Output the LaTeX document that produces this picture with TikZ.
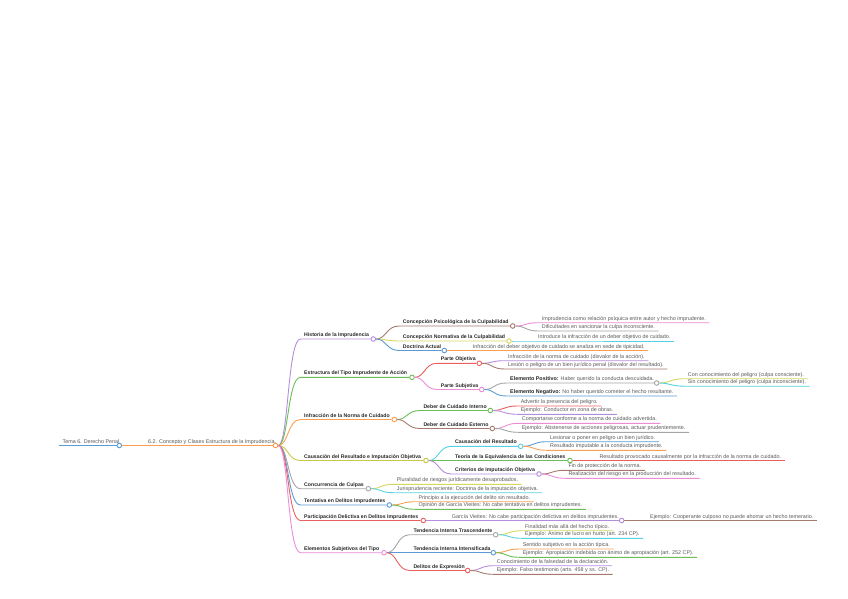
\documentclass[tikz,border=0pt]{standalone}
\usepackage{fontspec}
\setmainfont{Liberation Sans}

\definecolor{mmblue}{RGB}{91,155,213}
\definecolor{mmorange}{RGB}{250,160,85}
\definecolor{mmpurple}{RGB}{180,140,220}
\definecolor{mmgreen}{RGB}{105,190,85}
\definecolor{mmolive}{RGB}{200,200,70}
\definecolor{mmgray}{RGB}{165,165,165}
\definecolor{mmred}{RGB}{235,95,95}
\definecolor{mmpink}{RGB}{235,140,215}
\definecolor{mmbrown}{RGB}{165,122,112}
\definecolor{mmcyan}{RGB}{85,210,225}
\definecolor{mmyellow}{RGB}{215,215,95}

\begin{document}
\begin{tikzpicture}[
        x=1bp, y=-1bp,
        tema/.style={
            anchor=south west,
            inner xsep=3.5bp,
            inner ysep=1.2bp,
            text height=3.9pt,
            text depth=1.1pt,
            font=\fontsize{5.4}{6}\selectfont,
            text=black!65
        },
        titulo/.style={
            tema,
            font=\fontsize{5.2}{6}\selectfont\bfseries,
            text=black!85
        },
        punto/.style={
            circle,
            draw=#1,
            fill=white,
            line width=0.9pt,
            minimum size=4.6pt,
            inner sep=0pt
        },
        rama/.style={
            draw=#1,
            line width=0.9pt,
            to path={.. controls +(13,0) and +(-13,0) .. (\tikztotarget)}
        }
    ]

    \useasboundingbox (0,0) rectangle (848,599);

    % Raíz
    \node[tema] (raiz) at (59,445.5) {Tema 6. Derecho Penal};
    \node[punto=mmblue] (raizc) at (119.3,445.5) {};

    \node[tema] (t62) at (144.5,445.5) {6.2. Concepto y Clases Estructura de la Imprudencia.};
    \node[punto=mmorange] (t62c) at (275.5,445.5) {};

    % Temas principales
    \node[titulo] (hist) at (300.5,339) {Historia de la Imprudencia};
    \node[punto=mmpurple] (histc) at (373.3,339) {};

    \node[titulo] (estr) at (300.5,377.3) {Estructura del Tipo Imprudente de Acción};
    \node[punto=mmgreen] (estrc) at (412,377.3) {};

    \node[titulo] (infr) at (300.5,419.5) {Infracción de la Norma de Cuidado};
    \node[punto=mmorange] (infrc) at (394.3,419.5) {};

    \node[titulo] (caus) at (300.5,460.5) {Causación del Resultado e Imputación Objetiva};
    \node[punto=mmolive] (causc) at (426,460.5) {};

    \node[titulo] (conc) at (300.5,488.7) {Concurrencia de Culpas};
    \node[punto=mmgray] (concc) at (368.3,488.7) {};

    \node[titulo] (tent) at (300.5,505) {Tentativa en Delitos Imprudentes};
    \node[punto=mmblue] (tentc) at (389.3,505) {};

    \node[titulo] (part) at (300.5,520.5) {Participación Delictiva en Delitos Imprudentes};
    \node[punto=mmred] (partc) at (423.3,520.5) {};

    \node[titulo] (elem) at (300.5,552.7) {Elementos Subjetivos del Tipo};
    \node[punto=mmpink] (elemc) at (384,552.7) {};

    % Historia de la Imprudencia
    \node[titulo] (psico) at (399.2,326) {Concepción Psicológica de la Culpabilidad};
    \node[punto=mmbrown] (psicoc) at (512.7,326) {};
    \node[tema] (p1) at (538.2,322.7) {Imprudencia como relación psíquica entre autor y hecho imprudente.};
    \node[tema] (p2) at (538.2,331) {Dificultades en sancionar la culpa inconsciente.};

    \node[titulo] (norm) at (399.2,341) {Concepción Normativa de la Culpabilidad};
    \node[punto=mmyellow] (normc) at (509,341) {};
    \node[tema] (n1) at (534.5,341) {Introduce la infracción de un deber objetivo de cuidado.};

    \node[titulo] (doct) at (399.2,350.5) {Doctrina Actual};
    \node[punto=mmblue] (doctc) at (444.3,350.5) {};
    \node[tema] (d1) at (469.2,350.5) {Infracción del deber objetivo de cuidado se analiza en sede de tipicidad.};

    % Estructura del tipo
    \node[titulo] (pobj) at (437.2,363.3) {Parte Objetiva};
    \node[punto=mmred] (pobjc) at (479.3,363.3) {};
    \node[tema] (o1) at (504.5,360.7) {Infracción de la norma de cuidado (disvalor de la acción).};
    \node[tema] (o2) at (504.5,369) {Lesión o peligro de un bien jurídico penal (disvalor del resultado).};

    \node[titulo] (psub) at (437.2,389.5) {Parte Subjetiva};
    \node[punto=mmpink] (psubc) at (481.7,389.5) {};
    \node[tema] (epos) at (506.5,383) {\textbf{\color{black!85}Elemento Positivo:} Haber querido la conducta descuidada.};
    \node[punto=mmgray] (eposc) at (656.7,383) {};
    \node[tema] (ep1) at (684.2,378.7) {Con conocimiento del peligro (culpa consciente).};
    \node[tema] (ep2) at (684.2,386.2) {Sin conocimiento del peligro (culpa inconsciente).};
    \node[tema] (eneg) at (506.5,396) {\textbf{\color{black!85}Elemento Negativo:} No haber querido cometer el hecho resultante.};

    % Infracción de la norma
    \node[titulo] (dint) at (419.8,410.5) {Deber de Cuidado Interno};
    \node[punto=mmgreen] (dintc) at (490.3,410.5) {};
    \node[tema] (i1) at (517.2,406) {Advertir la presencia del peligro.};
    \node[tema] (i2) at (517.2,414.3) {Ejemplo: Conductor en zona de obras.};

    \node[titulo] (dext) at (419.8,428.5) {Deber de Cuidado Externo};
    \node[punto=mmbrown] (dextc) at (492.3,428.5) {};
    \node[tema] (e1) at (518.2,423.3) {Comportarse conforme a la norma de cuidado advertida.};
    \node[tema] (e2) at (518.2,432.3) {Ejemplo: Abstenerse de acciones peligrosas, actuar prudentemente.};

    % Causación e imputación
    \node[titulo] (cres) at (451.5,446.3) {Causación del Resultado};
    \node[punto=mmcyan] (cresc) at (520.7,446.3) {};
    \node[tema] (r1) at (546.5,441.7) {Lesionar o poner en peligro un bien jurídico.};
    \node[tema] (r2) at (546.5,450.3) {Resultado imputable a la conducta imprudente.};

    \node[titulo] (teq) at (451.5,460.5) {Teoría de la Equivalencia de las Condiciones};
    \node[punto=mmgreen] (teqc) at (570,460.5) {};
    \node[tema] (q1) at (595.8,460.5) {Resultado provocado causalmente por la infracción de la norma de cuidado.};

    \node[titulo] (crit) at (451.5,474) {Criterios de Imputación Objetiva};
    \node[punto=mmpurple] (critc) at (539,474) {};
    \node[tema] (c1) at (564.8,470.3) {Fin de protección de la norma.};
    \node[tema] (c2) at (564.8,478.3) {Realización del riesgo en la producción del resultado.};

    % Concurrencia, tentativa y participación
    \node[tema] (cc1) at (393.2,484.3) {Pluralidad de riesgos jurídicamente desaprobados.};
    \node[tema] (cc2) at (393.2,492.7) {Jurisprudencia reciente: Doctrina de la imputación objetiva.};

    \node[tema] (t1) at (414.8,501.7) {Principio a la ejecución del delito sin resultado.};
    \node[tema] (t2) at (414.8,509.3) {Opinión de García Vieites: No cabe tentativa en delitos imprudentes.};

    \node[tema] (pa1) at (448.2,520.5) {García Vieites: No cabe participación delictiva en delitos imprudentes.};
    \node[punto=mmpurple] (pa1c) at (621.7,520.5) {};
    \node[tema] (pa2) at (646.5,520.5) {Ejemplo: Cooperante culposo no puede ahorrar un hecho temerario.};

    % Elementos subjetivos
    \node[titulo] (ttra) at (409.8,534.7) {Tendencia Interna Trascendente};
    \node[punto=mmgray] (ttrac) at (495.7,534.7) {};
    \node[tema] (tt1) at (521.5,530.7) {Finalidad más allá del hecho típico.};
    \node[tema] (tt2) at (521.5,538.3) {Ejemplo: Ánimo de lucro en hurto (art. 234 CP).};

    \node[titulo] (tint) at (409.8,552.7) {Tendencia Interna Intensificada};
    \node[punto=mmblue] (tintc) at (493.3,552.7) {};
    \node[tema] (ti1) at (519.2,549) {Sentido subjetivo en la acción típica.};
    \node[tema] (ti2) at (519.2,557.3) {Ejemplo: Apropiación indebida con ánimo de apropiación (art. 252 CP).};

    \node[titulo] (dexp) at (409.8,570.5) {Delitos de Expresión};
    \node[punto=mmred] (dexpc) at (467.7,570.5) {};
    \node[tema] (x1) at (493.2,565.7) {Conocimiento de la falsedad de la declaración.};
    \node[tema] (x2) at (493.2,574.3) {Ejemplo: Falso testimonio (arts. 458 y ss. CP).};

    % Ramas
    \draw[mmblue, line width=1.2pt] (raiz.south west) -- (raizc);
    \draw[rama=mmorange, line width=1.2pt] (raizc) to (t62.south west) -- (t62c);

    \draw[rama=mmpurple] (t62c) to (hist.south west) -- (histc);
    \draw[rama=mmgreen] (t62c) to (estr.south west) -- (estrc);
    \draw[rama=mmorange] (t62c) to (infr.south west) -- (infrc);
    \draw[rama=mmolive] (t62c) to (caus.south west) -- (causc);
    \draw[rama=mmgray] (t62c) to (conc.south west) -- (concc);
    \draw[rama=mmblue] (t62c) to (tent.south west) -- (tentc);
    \draw[rama=mmred] (t62c) to (part.south west) -- (partc);
    \draw[rama=mmpink] (t62c) to (elem.south west) -- (elemc);

    \draw[rama=mmbrown] (histc) to (psico.south west) -- (psicoc);
    \draw[rama=mmpink] (psicoc) to (p1.south west) -- (p1.south east);
    \draw[rama=mmgray] (psicoc) to (p2.south west) -- (p2.south east);
    \draw[rama=mmyellow] (histc) to (norm.south west) -- (normc);
    \draw[rama=mmcyan] (normc) to (n1.south west) -- (n1.south east);
    \draw[rama=mmblue] (histc) to (doct.south west) -- (doctc);
    \draw[rama=mmorange] (doctc) to (d1.south west) -- (d1.south east);

    \draw[rama=mmred] (estrc) to (pobj.south west) -- (pobjc);
    \draw[rama=mmpurple] (pobjc) to (o1.south west) -- (o1.south east);
    \draw[rama=mmbrown] (pobjc) to (o2.south west) -- (o2.south east);
    \draw[rama=mmpink] (estrc) to (psub.south west) -- (psubc);
    \draw[rama=mmgray] (psubc) to (epos.south west) -- (eposc);
    \draw[rama=mmyellow] (eposc) to (ep1.south west) -- (ep1.south east);
    \draw[rama=mmcyan] (eposc) to (ep2.south west) -- (ep2.south east);
    \draw[rama=mmblue] (psubc) to (eneg.south west) -- (eneg.south east);

    \draw[rama=mmgreen] (infrc) to (dint.south west) -- (dintc);
    \draw[rama=mmred] (dintc) to (i1.south west) -- (i1.south east);
    \draw[rama=mmpurple] (dintc) to (i2.south west) -- (i2.south east);
    \draw[rama=mmbrown] (infrc) to (dext.south west) -- (dextc);
    \draw[rama=mmpink] (dextc) to (e1.south west) -- (e1.south east);
    \draw[rama=mmgray] (dextc) to (e2.south west) -- (e2.south east);

    \draw[rama=mmcyan] (causc) to (cres.south west) -- (cresc);
    \draw[rama=mmblue] (cresc) to (r1.south west) -- (r1.south east);
    \draw[rama=mmorange] (cresc) to (r2.south west) -- (r2.south east);
    \draw[rama=mmgreen] (causc) to (teq.south west) -- (teqc);
    \draw[rama=mmred] (teqc) to (q1.south west) -- (q1.south east);
    \draw[rama=mmpurple] (causc) to (crit.south west) -- (critc);
    \draw[rama=mmbrown] (critc) to (c1.south west) -- (c1.south east);
    \draw[rama=mmpink] (critc) to (c2.south west) -- (c2.south east);

    \draw[rama=mmyellow] (concc) to (cc1.south west) -- (cc1.south east);
    \draw[rama=mmcyan] (concc) to (cc2.south west) -- (cc2.south east);

    \draw[rama=mmorange] (tentc) to (t1.south west) -- (t1.south east);
    \draw[rama=mmgreen] (tentc) to (t2.south west) -- (t2.south east);

    \draw[rama=mmpurple] (partc) to (pa1.south west) -- (pa1c);
    \draw[rama=mmbrown] (pa1c) to (pa2.south west) -- (pa2.south east);

    \draw[rama=mmgray] (elemc) to (ttra.south west) -- (ttrac);
    \draw[rama=mmyellow] (ttrac) to (tt1.south west) -- (tt1.south east);
    \draw[rama=mmcyan] (ttrac) to (tt2.south west) -- (tt2.south east);
    \draw[rama=mmblue] (elemc) to (tint.south west) -- (tintc);
    \draw[rama=mmorange] (tintc) to (ti1.south west) -- (ti1.south east);
    \draw[rama=mmgreen] (tintc) to (ti2.south west) -- (ti2.south east);
    \draw[rama=mmred] (elemc) to (dexp.south west) -- (dexpc);
    \draw[rama=mmpurple] (dexpc) to (x1.south west) -- (x1.south east);
    \draw[rama=mmbrown] (dexpc) to (x2.south west) -- (x2.south east);

\end{tikzpicture}
\end{document}
